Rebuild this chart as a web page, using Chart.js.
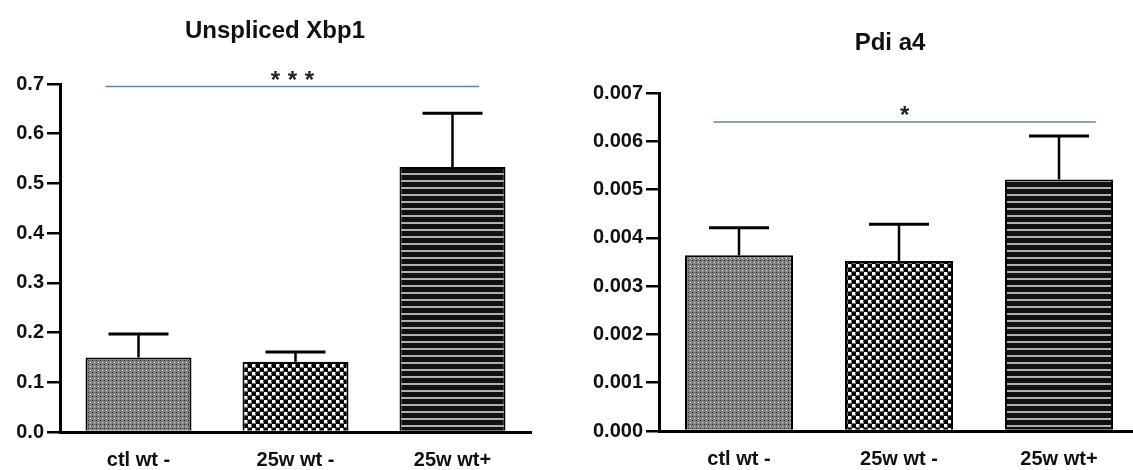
<!DOCTYPE html>
<html><head><meta charset="utf-8">
<script src="https://cdn.jsdelivr.net/npm/chart.js@4.4.1/dist/chart.umd.min.js"></script>
<style>
html,body{margin:0;padding:0;background:#fff;overflow:hidden;width:1133px;height:470px;}
#w1{position:absolute;left:0;top:0;width:560px;height:470px;}
#w2{position:absolute;left:560px;top:0;width:600px;height:470px;}
</style></head><body>
<div id="w1"><canvas id="c1"></canvas></div>
<div id="w2"><canvas id="c2"></canvas></div>
<script>
// ---- data ----
const categories = ['ctl wt -', '25w wt -', '25w wt+'];
const xbp1Means = [0.150, 0.141, 0.533];
const xbp1Upper = [0.197, 0.161, 0.641];
const xbp1TickValues = [0, 0.1, 0.2, 0.3, 0.4, 0.5, 0.6, 0.7];
const xbp1TickLabels = ['0.0', '0.1', '0.2', '0.3', '0.4', '0.5', '0.6', '0.7'];
const pdiMeans = [0.00364, 0.00352, 0.00521];
const pdiUpper = [0.00421, 0.00428, 0.00611];
const pdiTickValues = [0, 0.001, 0.002, 0.003, 0.004, 0.005, 0.006, 0.007];
const pdiTickLabels = ['0.000', '0.001', '0.002', '0.003', '0.004', '0.005', '0.006', '0.007'];
const xbp1Sig = {from: -0.21, to: 2.17, y: 0.695, starY: 0.72, stars: 3};
const pdiSig = {from: -0.16, to: 2.23, y: 0.0064, starY: 0.00666, stars: 1};

// ---- patterns ----
function makePattern(w, h, draw) {
  const c = document.createElement('canvas');
  c.width = w; c.height = h;
  const g = c.getContext('2d');
  draw(g);
  return g.createPattern(c, 'repeat');
}
const patFine = makePattern(4, 4, g => {
  g.fillStyle = '#848484'; g.fillRect(0, 0, 4, 4);
  g.fillStyle = '#2a2a2a'; g.fillRect(0, 0, 1, 1);
  g.fillStyle = '#5a5a5a'; g.fillRect(2, 0, 1, 1); g.fillRect(0, 2, 1, 1);
  g.fillStyle = '#e6e6e6'; g.fillRect(2, 2, 1, 1);
});
const patChecker = makePattern(8, 8, g => {
  g.fillStyle = '#6a6a6a'; g.fillRect(0, 0, 8, 8);
  g.fillStyle = '#ffffff'; g.fillRect(0, 0, 3, 3); g.fillRect(4, 4, 3, 3);
  g.fillStyle = '#000000'; g.fillRect(4, 0, 4, 4); g.fillRect(0, 4, 4, 4);
});
const patStripes = makePattern(4, 7, g => {
  g.fillStyle = '#111111'; g.fillRect(0, 0, 4, 7);
  g.fillStyle = '#b0b0b0'; g.fillRect(0, 5, 4, 2);
});
const barFills = [patFine, patChecker, patStripes];

// ---- annotation plugin ----
const annot = {
  id: 'annot',
  afterDatasetsDraw(chart, args, o) {
    const ctx = chart.ctx, xs = chart.scales.x, ys = chart.scales.y;
    const meta = chart.getDatasetMeta(0);
    ctx.save();
    ctx.strokeStyle = '#000';
    o.upper.forEach((u, i) => {
      const x = meta.data[i].x;
      const yb = ys.getPixelForValue(o.means[i]);
      const yt = ys.getPixelForValue(u);
      ctx.lineWidth = 2.5;
      ctx.beginPath(); ctx.moveTo(x, yb); ctx.lineTo(x, yt); ctx.stroke();
      ctx.lineWidth = 3;
      ctx.beginPath(); ctx.moveTo(x - 30, yt); ctx.lineTo(x + 30, yt); ctx.stroke();
    });
    // significance line
    const s = o.sig;
    const sy = ys.getPixelForValue(s.y);
    ctx.strokeStyle = '#5a86ad';
    ctx.lineWidth = 1.5;
    ctx.beginPath();
    ctx.moveTo(xs.getPixelForValue(s.from), sy);
    ctx.lineTo(xs.getPixelForValue(s.to), sy);
    ctx.stroke();
    // stars
    const cx = (xs.getPixelForValue(s.from) + xs.getPixelForValue(s.to)) / 2;
    const stY = ys.getPixelForValue(s.starY);
    ctx.fillStyle = '#222';
    ctx.font = 'bold 24px "Liberation Sans", Arial, sans-serif';
    ctx.textAlign = 'center';
    ctx.textBaseline = 'alphabetic';
    for (let k = 0; k < s.stars; k++) {
      const sx = cx + (k - (s.stars - 1) / 2) * 17;
      ctx.fillText('*', sx, stY + 14);
    }
    // title
    ctx.fillStyle = '#111';
    ctx.font = 'bold 24px "Liberation Sans", Arial, sans-serif';
    ctx.textBaseline = 'middle';
    ctx.fillText(o.title, o.titleX, o.titleY);
    ctx.restore();
  }
};

const tickFont = {family: '"Liberation Sans", Arial, sans-serif', weight: 'bold', size: 20};

function makeChart(id, means, upper, tickVals, tickLabels, sig, title, geo) {
  new Chart(document.getElementById(id), {
    type: 'bar',
    data: {
      labels: categories,
      datasets: [{
        data: means,
        backgroundColor: barFills,
        borderColor: '#000',
        borderWidth: 2,
        categoryPercentage: 1,
        barPercentage: 0.675
      }]
    },
    options: {
      responsive: true,
      maintainAspectRatio: false,
      animation: false,
      devicePixelRatio: 1,
      layout: {padding: {left: 0, right: geo.right, top: geo.top, bottom: 0}},
      plugins: {
        legend: {display: false},
        tooltip: {enabled: false},
        annot: {means, upper, sig, title, titleX: geo.titleX, titleY: geo.titleY}
      },
      scales: {
        x: {
          type: 'category',
          offset: true,
          grid: {display: false},
          border: {display: true, color: '#000', width: 3},
          ticks: {color: '#111', font: tickFont, padding: 8, maxRotation: 0, autoSkip: false},
          afterFit: sc => { sc.height = geo.xh; }
        },
        y: {
          min: tickVals[0],
          max: tickVals[tickVals.length - 1],
          grid: {drawOnChartArea: false, drawTicks: true, tickLength: 13, color: '#000', lineWidth: 2.5},
          border: {display: true, color: '#000', width: 3},
          ticks: {
            color: '#111', font: tickFont, padding: 3,
            callback: (v) => {
              const idx = tickVals.findIndex(t => Math.abs(t - v) < 1e-9);
              return idx >= 0 ? tickLabels[idx] : '';
            }
          },
          afterBuildTicks: sc => { sc.ticks = tickVals.map(v => ({value: v})); },
          afterFit: sc => { sc.width = geo.yw; }
        }
      }
    },
    plugins: [annot]
  });
}

makeChart('c1', xbp1Means, xbp1Upper, xbp1TickValues, xbp1TickLabels, xbp1Sig, 'Unspliced Xbp1',
  {right: 29, top: 84, xh: 38, yw: 60, titleX: 275, titleY: 31});
makeChart('c2', pdiMeans, pdiUpper, pdiTickValues, pdiTickLabels, pdiSig, 'Pdi a4',
  {right: 21, top: 93, xh: 39, yw: 99, titleX: 330, titleY: 43});
</script>
</body></html>
